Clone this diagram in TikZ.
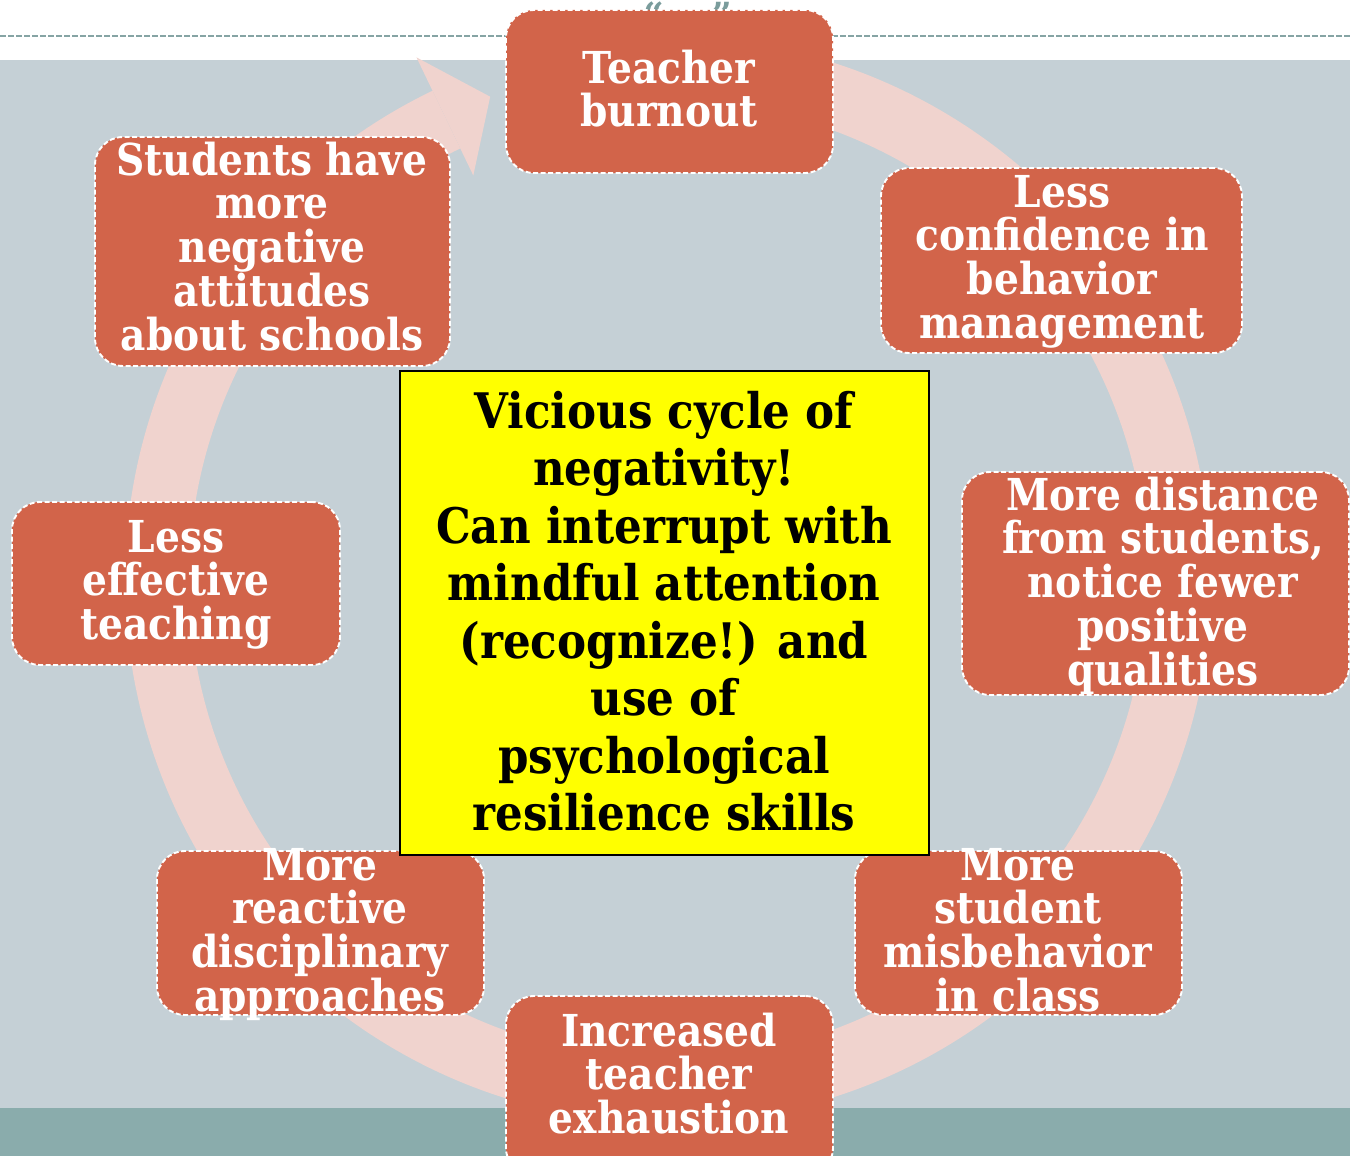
\documentclass[tikz,border=0pt]{standalone}
\usepackage{fontspec}
\setmainfont{DejaVu Serif}
\newfontfamily\gfont{DejaVu Serif}[FakeStretch=0.89]
\newfontfamily\qfont{DejaVu Serif}
\definecolor{bgc}{HTML}{C5D0D6}
\definecolor{bandc}{HTML}{8AACAC}
\definecolor{dashc}{HTML}{86A4A4}
\definecolor{ringc}{HTML}{F0D3CE}
\definecolor{boxc}{HTML}{D2644A}
\definecolor{quotec}{HTML}{7A9C9C}
\definecolor{ybox}{HTML}{FFFF00}
\newcommand\ostrut{\rule{0pt}{40pt}}
\newcommand\ystrut{\rule{0pt}{45pt}}
\newcommand\tightls{\lineskiplimit=-100pt\relax}
\begin{document}
\begin{tikzpicture}[x=1pt,y=-1pt,
  cbox/.style={draw=white, fill=boxc, line width=1.9pt, dash pattern=on 5pt off 2.5pt,
    rounded corners=28pt, inner sep=0pt},
  otxt/.style={text=white, align=center, inner sep=0pt, anchor=north,
    font=\gfont\bfseries\fontsize{44}{43.7}\selectfont\tightls},
  ytxt/.style={text=black, align=center, inner sep=0pt, anchor=north,
    font=\gfont\bfseries\fontsize{49}{57.5}\selectfont\tightls},
  qtxt/.style={text=quotec, inner sep=0pt, anchor=north, font=\qfont\bfseries\fontsize{36}{36}\selectfont}]
\useasboundingbox (0,0) rectangle (1350,1156);
\clip (0,0) rectangle (1350,1156);
% background
\fill[white] (0,0) rectangle (1350,60);
\fill[bgc] (0,60) rectangle (1350,1108);
\fill[bandc] (0,1108) rectangle (1350,1156);
\coordinate (dl) at (0,36);
\coordinate (dr) at (1350,36);
\draw[dashc, line width=2.2pt, dash pattern=on 6pt off 2pt] (dl) -- (dr);
% quotes
\node[qtxt] (q1) at (654,2) {“};
\node[qtxt] (q2) at (722,2) {”};
% ring arrow
\fill[ringc, shift={(668,580)}] (-100:543) arc[start angle=-100, end angle=244.3, radius=543]
  -- (244.3:479) arc[start angle=244.3, end angle=-100, radius=479] -- cycle;
\fill[ringc, shift={(668,580)}] (244.3:580) -- (249.8:515) -- (244.3:449) -- cycle;
% boxes
\node[cbox, minimum width=327pt, minimum height=163pt] (b1) at (669.5,91.5) {};
\node[cbox, minimum width=361pt, minimum height=185pt] (b2) at (1061.5,260.5) {};
\node[cbox, minimum width=387pt, minimum height=223pt] (b3) at (1155.5,583.5) {};
\node[cbox, minimum width=327pt, minimum height=164pt] (b4) at (1018.5,933) {};
\node[cbox, minimum width=327pt, minimum height=180pt] (b5) at (669.5,1086) {};
\node[cbox, minimum width=327pt, minimum height=164pt] (b6) at (320.5,933) {};
\node[cbox, minimum width=328pt, minimum height=163pt] (b7) at (176,583.5) {};
\node[cbox, minimum width=355pt, minimum height=229pt] (b8) at (272.5,251.5) {};
% texts
\node[otxt] (t1) at (669,43) {\ostrut Teacher\\burnout};
\node[otxt] (t2) at (1062,167) {\ostrut Less\\confidence in\\behavior\\management};
\node[otxt] (t3) at (1163,470) {\ostrut More distance\\from students,\\notice fewer\\positive\\qualities};
\node[otxt] (t4) at (1018,840) {\ostrut More\\student\\misbehavior\\in class};
\node[otxt] (t5) at (669,1006) {\ostrut Increased\\teacher\\exhaustion};
\node[otxt] (t6) at (320,840) {\ostrut More\\reactive\\disciplinary\\approaches};
\node[otxt] (t7) at (176,512) {\ostrut Less\\effective\\teaching};
\node[otxt] (t8) at (272,135) {\ostrut Students have\\more\\negative\\attitudes\\about schools};
% center box
\node[draw=black, fill=ybox, line width=1.6pt, minimum width=529pt, minimum height=484pt, inner sep=0pt] (yb) at (664.5,613) {};
\node[ytxt] (ty) at (664,383) {\ystrut Vicious cycle of\\negativity!\\Can interrupt with\\mindful attention\\(recognize!) and\\use of\\psychological\\resilience skills};
\end{tikzpicture}
\end{document}
